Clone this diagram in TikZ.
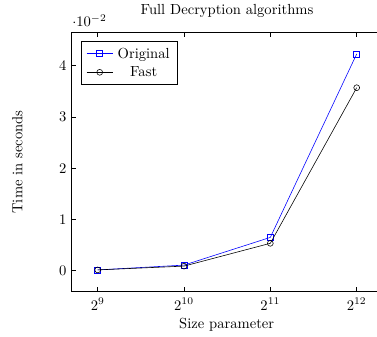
\documentclass[tikz,border=0pt]{standalone}
\begin{document}
\begin{tikzpicture}[x=0.6849pt,y=-0.6849pt,
  axisline/.style={line width=0.4pt,black},
  tickmark/.style={line width=0.4pt,black},
  origline/.style={blue,line width=0.4pt,line join=round},
  fastline/.style={black,line width=0.4pt,line join=round},
  sqmark/.style={draw=blue,rectangle,minimum size=4pt,inner sep=0pt,line width=0.4pt},
  cmark/.style={draw=black,circle,minimum size=4pt,inner sep=0pt,line width=0.4pt},
  lbl/.style={inner sep=0pt,font=\normalsize}]
\useasboundingbox (0,0) rectangle (377,336);
\begin{scope}
\clip (0,0) rectangle (377,336);
% axis box
\draw[axisline] (71.7,32.7) rectangle (382.6,291.2);
% x ticks
\foreach \xx in {97.7,184.0,270.3,356.7}{
  \draw[tickmark] (\xx,291.2) -- (\xx,287.05);
  \draw[tickmark] (\xx,32.7) -- (\xx,36.85);
}
% y ticks
\foreach \yy in {270.7,219.45,168.2,116.95,65.7}{
  \draw[tickmark] (71.7,\yy) -- (75.85,\yy);
  \draw[tickmark] (382.6,\yy) -- (378.45,\yy);
}
% data coordinates
\coordinate (o9) at (97.7,269.9);
\coordinate (o10) at (184.0,265.1);
\coordinate (o11) at (270.3,237.4);
\coordinate (o12) at (356.7,53.9);
\coordinate (f9) at (97.7,269.9);
\coordinate (f10) at (184.0,266.1);
\coordinate (f11) at (270.3,243.3);
\coordinate (f12) at (356.7,87.7);
% Original
\draw[origline] (o9) -- (o10) -- (o11) -- (o12);
\node[sqmark] (mo9) at (o9) {};
\node[sqmark] (mo10) at (o10) {};
\node[sqmark] (mo11) at (o11) {};
\node[sqmark] (mo12) at (o12) {};
% Fast
\draw[fastline] (f9) -- (f10) -- (f11) -- (f12);
\node[cmark] (mf9) at (f9) {};
\node[cmark] (mf10) at (f10) {};
\node[cmark] (mf11) at (f11) {};
\node[cmark] (mf12) at (f12) {};
\end{scope}
% y tick labels
\node[lbl] (y0) at (62.8,270.7) {0};
\node[lbl] (y1) at (62.8,219.45) {1};
\node[lbl] (y2) at (62.8,168.2) {2};
\node[lbl] (y3) at (62.8,116.95) {3};
\node[lbl] (y4) at (62.8,65.7) {4};
% x tick labels
\node[lbl,anchor=base] (x9) at (97.7,310) {$2^{9}$};
\node[lbl,anchor=base] (x10) at (184.0,310) {$2^{10}$};
\node[lbl,anchor=base] (x11) at (270.3,310) {$2^{11}$};
\node[lbl,anchor=base] (x12) at (356.7,310) {$2^{12}$};
% scale label
\node[lbl,anchor=base west] (scl) at (72,26.5) {$\cdot 10^{-2}$};
% title and axis labels
\node[lbl,anchor=base] (title) at (227,14) {Full Decryption algorithms};
\node[lbl,anchor=base] (xlab) at (226.7,328.5) {Size parameter};
\node[lbl,rotate=90] (ylab) at (17.5,162) {Time in seconds};
% legend
\draw[axisline,fill=white] (81,41.5) rectangle (177.7,84.2);
\coordinate (la1) at (86.7,53.3);
\coordinate (lb1) at (112.7,53.3);
\coordinate (la2) at (86.7,72.3);
\coordinate (lb2) at (112.7,72.3);
\draw[origline] (la1) -- (lb1);
\node[sqmark] (lmo) at (99.7,53.3) {};
\draw[fastline] (la2) -- (lb2);
\node[cmark] (lmf) at (99.7,72.3) {};
\node[lbl,anchor=base] (lto) at (143.7,58.3) {Original};
\node[lbl,anchor=base] (ltf) at (143.7,76.3) {Fast};
\end{tikzpicture}
\end{document}
